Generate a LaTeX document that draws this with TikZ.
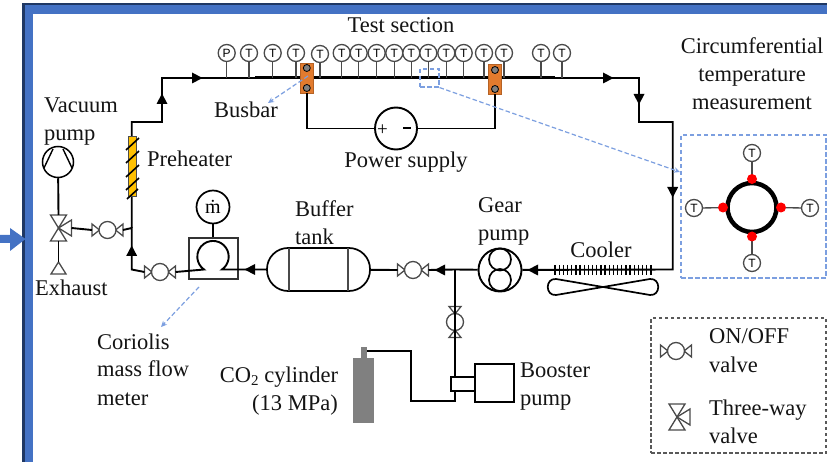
\documentclass[tikz,border=0pt]{standalone}
\usepackage{fontspec}
\setmainfont{Liberation Serif}
\newfontfamily\sensfont{Liberation Sans}
\usetikzlibrary{arrows.meta}
\definecolor{frameblue}{HTML}{4472C4}
\definecolor{framedark}{HTML}{1F3864}
\definecolor{dashblue}{HTML}{7C9FE0}
\definecolor{orangebar}{HTML}{E27B2E}
\definecolor{heater}{HTML}{FFC000}
\definecolor{inkc}{HTML}{141414}
\definecolor{valvec}{HTML}{4A4A4A}
\tikzset{
  lbl/.style={anchor=base west,inner sep=0pt,font=\fontsize{22.5}{27}\selectfont,text=inkc},
  lblc/.style={anchor=base,inner sep=0pt,font=\fontsize{22.5}{27}\selectfont,text=inkc},
  pipe/.style={draw=black,line width=1.9pt,line join=miter},
  sens/.style={circle,draw=valvec,line width=1.3pt,fill=white,minimum size=17pt,inner sep=0pt,font=\sensfont\fontsize{12}{12}\selectfont,text=black},
  stem/.style={draw=valvec,line width=1.3pt},
  vwing/.style={draw=valvec,line width=1.3pt,fill=white,line join=miter},
  vcirc/.style={circle,draw=valvec,line width=1.3pt,fill=white,minimum size=17pt,inner sep=0pt},
  bluedash/.style={draw=dashblue,line width=1.2pt,dash pattern=on 4.5pt off 2.5pt},
  bluearrow/.style={bluedash,-{Stealth[length=6pt,width=5.5pt]}},
  fdot/.style={circle,fill=red,minimum size=10pt,inner sep=0pt},
  bdot/.style={circle,draw=black,line width=.8pt,fill=gray,minimum size=7pt,inner sep=0pt},
  bar/.style={draw=orangebar!80!black,line width=.5pt,fill=orangebar,minimum width=12.5pt,minimum height=30pt,inner sep=0pt},
  x=1pt,y=-1pt
}
\newcommand{\flowhead}[3]{\fill[black,shift={(#1,#2)},rotate=#3] (5.5,0) -- (-5,5.5) -- (-5,-5.5) -- cycle;}
% name, x, y, rotation : on/off valve
\newcommand{\onoff}[4]{%
  \begin{scope}[shift={(#2,#3)},rotate=#4]
    \draw[vwing] (-8,0) -- (-15.5,-6) -- (-15.5,6) -- cycle;
    \draw[vwing] (8,0) -- (15.5,-6) -- (15.5,6) -- cycle;
    \node[vcirc] (#1) at (0,0) {};
    \coordinate (#1a) at (-15.5,0);
    \coordinate (#1b) at (15.5,0);
  \end{scope}}
% name, x, y : three-way valve
\newcommand{\threeway}[3]{%
  \begin{scope}[shift={(#2,#3)}]
    \draw[vwing] (0,0) -- (-8,-13) -- (8,-13) -- cycle;
    \draw[vwing] (0,0) -- (-8,13) -- (8,13) -- cycle;
    \draw[vwing] (0,0) -- (13,-8) -- (13,8) -- cycle;
    \coordinate (#1) at (0,0);
    \coordinate (#1t) at (0,-13);
    \coordinate (#1d) at (0,13);
    \coordinate (#1r) at (13,0);
  \end{scope}}
\begin{document}
\begin{tikzpicture}
\useasboundingbox (0,0) rectangle (827,462);
\fill[white] (0,0) rectangle (827,462);
% frame
\fill[frameblue] (22,3) rectangle (33,462);
\fill[frameblue] (22,3) rectangle (827,14);
\fill[framedark] (22,3) rectangle (25,462);
\fill[framedark] (22,3) rectangle (827,5);
\fill[frameblue] (0,235) -- (10,235) -- (10,228) -- (25.5,239) -- (10,251) -- (10,243) -- (0,243) -- cycle;

% named way points
\coordinate (h1) at (131.7,122);
\coordinate (h2) at (162,122);
\coordinate (h3) at (162,78);
\coordinate (t1) at (255,78);
\coordinate (t2) at (555,78);
\coordinate (r1) at (639,78);
\coordinate (r2) at (639,122);
\coordinate (r3) at (672.7,122);
\coordinate (r4) at (672.7,269.5);
\coordinate (jn) at (455,269.5);
\coordinate (mj) at (131.7,228);
\coordinate (ml) at (131.7,269.5);
\coordinate (bj) at (455,401);
\coordinate (c1) at (411,401);
\coordinate (c2) at (411,351);
\coordinate (c3) at (364,351);
\coordinate (exh) at (58.5,262);

% components
\node[draw=black,line width=1.9pt,circle,minimum size=43pt,inner sep=0pt,fill=white] (gear) at (500,270) {};
\node[draw=black,line width=1.7pt,rectangle,rounded corners=21pt,minimum width=103pt,minimum height=43pt,inner sep=0pt,fill=white] (tank) at (318.5,269.5) {};
\draw[valvec,line width=1.3pt] (289,248) -- (289,291) (348,248) -- (348,291);
\node[draw=black!80,line width=1.8pt,minimum width=49pt,minimum height=41pt,inner sep=0pt] (cor) at (213.5,258.5) {};
\node[draw=black,line width=1.7pt,circle,minimum size=33pt,inner sep=0pt,font=\fontsize{20}{20}\selectfont] (mdot) at (213,207) {ṁ};
\node[draw=black,line width=1.5pt,circle,minimum size=31pt,inner sep=0pt] (vac) at (58,162) {};
\draw[black,line width=1.4pt] (44,168) -- (53,149) (72,168) -- (63,149);
\onoff{v1}{413}{270}{0}
\onoff{v2}{160}{272}{0}
\onoff{v3}{107.5}{230}{0}
\onoff{v4}{455}{322}{90}
\threeway{tw}{58.5}{228}
\draw[vwing] (exh) -- (51,274) -- (66,274) -- cycle;

% pipes
\draw[pipe] (mj) -- (h1) -- (h2) -- (h3) -- (r1) -- (r2) -- (r3) -- (r4) -- (gear);
\draw[black,line width=3pt] (t1) -- (t2);
\draw[pipe] (gear) -- (jn) -- (v1b);
\draw[pipe] (v1a) -- (tank);
\draw[pipe] (tank.west) -- (222,269.5) arc[start angle=55,end angle=-235,radius=15.7] -- (v2b);
\draw[pipe] (v2a) -- (ml) -- (mj) -- (v3b);
\draw[pipe] (v3a) -- (twr);
\draw[pipe] (twt) -- (vac);
\draw[pipe] (twd) -- (exh);
\draw[pipe] (mdot) -- (cor.north-|mdot);
\draw[pipe] (jn) -- (v4a);
\node[draw=black,line width=1.8pt,minimum width=24pt,minimum height=14pt,inner sep=0pt] (bs) at (463,384) {};
\node[draw=black,line width=1.8pt,minimum width=39pt,minimum height=38pt,inner sep=0pt] (boost) at (494.5,383) {};
\draw[pipe] (v4b) -- (bs.north-|jn);
\draw[pipe] (bs.south-|jn) -- (bj) -- (c1) -- (c2) -- (c3);

% gear lobes
\draw[black,line width=1.7pt] (500,259.5) circle (11);
\draw[black,line width=1.7pt] (500,280) circle (11);

% cylinder
\node[fill=black!50,minimum width=21pt,minimum height=65pt,inner sep=0pt] (cyl) at (363.5,390.5) {};
\node[fill=black!50,minimum width=6.5pt,minimum height=11pt,inner sep=0pt] (neck) at (364,352.5) {};

% preheater
\node[draw=black!70,line width=.8pt,fill=heater,minimum width=7.5pt,minimum height=60pt,inner sep=0pt] (pre) at (132.5,166) {};
\draw[black,line width=1.6pt] (126,150) -- (139,138) (126,163) -- (139,151) (126,177) -- (139,165) (126,190) -- (139,178) (127,199) -- (138,189);

% flow arrows
\flowhead{197}{78}{0}
\flowhead{162}{99}{90}
\flowhead{608}{78}{0}
\flowhead{639}{99}{-90}
\flowhead{672.7}{192}{-90}
\flowhead{533}{270}{180}
\flowhead{440}{270}{180}
\flowhead{250}{269.5}{180}
\flowhead{131.7}{251}{90}

% sensors on test section
\foreach \i/\x/\y/\l in {1/226.7/53/P,2/249/53/T,3/272.7/53/T,4/296/53/T,5/320/54/T,6/341.7/53/T,7/358.7/53/T,8/376.7/53/T,9/394.3/53/T,10/411.3/53/T,11/428.3/53/T,12/446.3/53/T,13/463.7/53/T,14/484/53/T,15/504/53/T,16/541/53/T,17/562/53/T}{
  \node[sens] (s\i) at (\x,\y) {\l};
  \draw[stem] (s\i) -- (s\i |- t1);
}
% busbars
\node[bar] (bl) at (306.8,78) {};
\node[bar] (br) at (494.8,79) {};
\node[bdot] (bl1) at (306.8,68) {};
\node[bdot] (bl2) at (306.8,88) {};
\node[bdot] (br1) at (495,70) {};
\node[bdot] (br2) at (495,89) {};
% power supply
\node[draw=black,line width=1.9pt,circle,minimum size=42pt,inner sep=0pt] (ps) at (396,128.5) {};
\draw[pipe] (bl.south) -- (bl.south|-ps) -- (ps.west);
\draw[pipe] (ps.east) -- (br.south|-ps) -- (br.south);
\node[inner sep=0pt,font=\fontsize{19}{19}\selectfont] (pl) at (382.5,130) {+};
\draw[black,line width=2pt] (403,128.5) -- (411,128.5);

% cooler
\foreach \k in {0,...,23}{\draw[black,line width=1.3pt] ({555+\k*4.17},265) -- ({555+\k*4.17},275);}
\draw[black,line width=1.7pt,line join=round] (603,287) -- (556,279) .. controls (545,278) and (545,296) .. (556,295) -- (603,287) -- (650,295) .. controls (661,296) and (661,278) .. (650,279) -- cycle;

% circumferential detail
\node[bluedash,minimum width=145pt,minimum height=143pt,inner sep=0pt] (detail) at (753.5,206.5) {};
\node[draw=black,line width=4.5pt,circle,minimum size=49pt,inner sep=0pt] (tube) at (752,207.5) {};
\node[sens] (ct) at (752,153) {T};
\node[sens] (cb) at (752,263) {T};
\node[sens] (cl) at (694,208) {T};
\node[sens] (cr) at (810,208) {T};
\draw[stem] (ct) -- (tube);
\draw[stem] (cb) -- (tube);
\draw[stem] (cl) -- (tube);
\draw[stem] (cr) -- (tube);
\node[fdot] (d1) at (752,179) {};
\node[fdot] (d2) at (752,236.5) {};
\node[fdot] (d3) at (723,207.5) {};
\node[fdot] (d4) at (781,207.5) {};

% blue pointers
\node[bluedash,minimum width=19pt,minimum height=18pt,inner sep=0pt] (mark) at (429.5,78) {};
\coordinate (dl) at (680,172);
\draw[bluearrow] (mark.south east) -- (dl);
\coordinate (bp1) at (308,76);
\coordinate (bp2) at (268,103);
\draw[bluearrow] (bp1) -- (bp2);
\coordinate (cp1) at (199,287);
\coordinate (cp2) at (161,327);
\draw[bluearrow] (cp1) -- (cp2);

% legend
\node[draw=black!65,line width=1.1pt,dash pattern=on 3.5pt off 2.5pt,minimum width=175pt,minimum height=135pt,inner sep=0pt] (leg) at (738.5,385.5) {};
\onoff{lv}{676}{351}{0}
\threeway{lt}{677}{417}

% texts
\node[lblc] (tTest) at (401,33) {Test section};
\node[lbl] (tBus) at (214,118) {Busbar};
\node[lbl] (tVac1) at (44,113) {Vacuum};
\node[lbl] (tVac2) at (44,141) {pump};
\node[lbl] (tPre) at (147,167) {Preheater};
\node[lbl] (tExh) at (35,296) {Exhaust};
\node[lbl] (tCor1) at (97,349) {Coriolis};
\node[lbl] (tCor2) at (97,376) {mass flow};
\node[lbl] (tCor3) at (97,405) {meter};
\node[lbl] (tBuf1) at (295,217) {Buffer};
\node[lbl] (tBuf2) at (295,245) {tank};
\node[lbl] (tGear1) at (478,213) {Gear};
\node[lbl] (tGear2) at (478,241) {pump};
\node[lblc] (tCool) at (601,258) {Cooler};
\node[lblc] (tPow) at (406,168) {Power supply};
\node[lblc] (tCir1) at (752,54) {Circumferential};
\node[lblc] (tCir2) at (752,82) {temperature};
\node[lblc] (tCir3) at (752,110) {measurement};
\node[lblc] (tCO) at (279,382) {CO\raisebox{-3.5pt}{\fontsize{15}{15}\selectfont 2} cylinder};
\node[lblc] (tMPa) at (295,410) {(13 MPa)};
\node[lbl] (tBoo1) at (520,377) {Booster};
\node[lbl] (tBoo2) at (520,405) {pump};
\node[lbl] (tOn1) at (709,343) {ON/OFF};
\node[lbl] (tOn2) at (709,372) {valve};
\node[lbl] (tTh1) at (709,415) {Three-way};
\node[lbl] (tTh2) at (709,443) {valve};
\end{tikzpicture}
\end{document}
